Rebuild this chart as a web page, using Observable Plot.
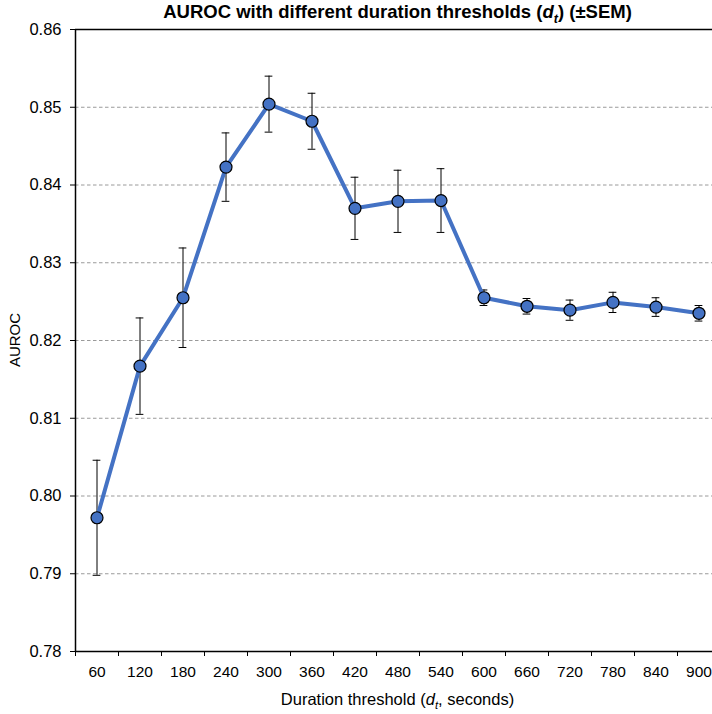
<!DOCTYPE html>
<html><head><meta charset="utf-8">
<script src="https://cdn.jsdelivr.net/npm/d3@7"></script>
<script src="https://cdn.jsdelivr.net/npm/@observablehq/plot@0.6"></script>
<style>
body{margin:0;background:#fff;}
#wrap{width:712px;height:714px;overflow:hidden;}
#wrap svg{max-width:none !important;}
</style></head><body><div id="wrap"></div>
<script>
const thresholds = [60,120,180,240,300,360,420,480,540,600,660,720,780,840,900];
const auroc = [0.7972,0.8167,0.8255,0.8423,0.8504,0.8482,0.8370,0.8379,0.8380,0.8255,0.8244,0.8239,0.8249,0.8243,0.8235];
const sem = [0.0074,0.0062,0.0064,0.0044,0.0036,0.0036,0.0040,0.0040,0.0041,0.0010,0.0010,0.0013,0.0013,0.0012,0.0010];
const yTicks = [0.78,0.79,0.80,0.81,0.82,0.83,0.84,0.85,0.86];
const gridTicks = [0.79,0.80,0.81,0.82,0.83,0.84,0.85];
const titleText = ["AUROC with different duration thresholds (", "d", "t", ") (±SEM)"];
const xLabelText = ["Duration threshold (", "d", "t", ", seconds)"];
const yLabelText = "AUROC";

const data = thresholds.map((t,i)=>({i:i+1,t,v:auroc[i],lo:auroc[i]-sem[i],hi:auroc[i]+sem[i]}));
const bounds = d3.range(thresholds.length+1).map(k=>k+0.5);
const capHalf = 0.09;
const font = "'Liberation Sans', Arial, sans-serif";

const plot = Plot.plot({
  width:720,height:714,marginLeft:75,marginRight:0,marginTop:29,marginBottom:63,
  style:{fontFamily:font, background:"#fff", color:"#000"},
  x:{type:"linear",domain:[0.5,thresholds.length+0.5]},
  y:{domain:[0.78,0.86]},
  marks:[
    Plot.ruleY(gridTicks,{stroke:"#9a9a9a",strokeWidth:1,strokeDasharray:"3.5,2.5"}),
    Plot.ruleY([0.86],{stroke:"#000",strokeWidth:1.3}),
    Plot.axisY({ticks:yTicks,tickFormat:d3.format(".2f"),tickSize:5,tickPadding:9,fontSize:16.5,label:null,stroke:"#000"}),
    Plot.axisX({ticks:data.map(d=>d.i),tickFormat:d=>String(thresholds[d-1]),tickSize:0,tickPadding:14,fontSize:15.5,label:null}),
    Plot.axisX({ticks:bounds,tickFormat:()=>"",tickSize:5,label:null,stroke:"#000"}),
    Plot.ruleX([0.5],{stroke:"#000",strokeWidth:1.5}),
    Plot.ruleY([0.78],{stroke:"#000",strokeWidth:1.3}),
    Plot.ruleX(data,{x:"i",y1:"lo",y2:"hi",stroke:"#000",strokeWidth:1}),
    Plot.ruleY(data,{y:"lo",x1:d=>d.i-capHalf,x2:d=>d.i+capHalf,stroke:"#000",strokeWidth:1}),
    Plot.ruleY(data,{y:"hi",x1:d=>d.i-capHalf,x2:d=>d.i+capHalf,stroke:"#000",strokeWidth:1}),
    Plot.line(data,{x:"i",y:"v",stroke:"#4472C4",strokeWidth:4,strokeLinejoin:"round"}),
    Plot.dot(data,{x:"i",y:"v",r:6,fill:"#4472C4",stroke:"#000",strokeWidth:1.2})
  ]
});
plot.style.maxWidth = "none";

const xs = plot.scale("x");
const cx = (xs.range[0]+xs.range[1])/2;
const svg = d3.select(plot);

function richText(parts, x, y, size, weight){
  const t = svg.append("text").attr("x",x).attr("y",y).attr("text-anchor","middle")
    .attr("font-family",font).attr("font-size",size).attr("font-weight",weight).attr("fill","#000");
  t.append("tspan").text(parts[0]);
  t.append("tspan").attr("font-style","italic").text(parts[1]);
  t.append("tspan").attr("font-style","italic").attr("font-size",size*0.68).attr("dy",size*0.25).text(parts[2]);
  t.append("tspan").attr("dy",-size*0.25).text(parts[3]);
  return t;
}
richText(titleText, cx, 18, 18.5, "bold");
richText(xLabelText, cx, 705, 16.5, "normal");
svg.append("text").attr("transform","translate(20,340) rotate(-90)").attr("text-anchor","middle")
  .attr("font-family",font).attr("font-size",15).attr("fill","#000").text(yLabelText);

document.getElementById("wrap").appendChild(plot);
</script></body></html>
